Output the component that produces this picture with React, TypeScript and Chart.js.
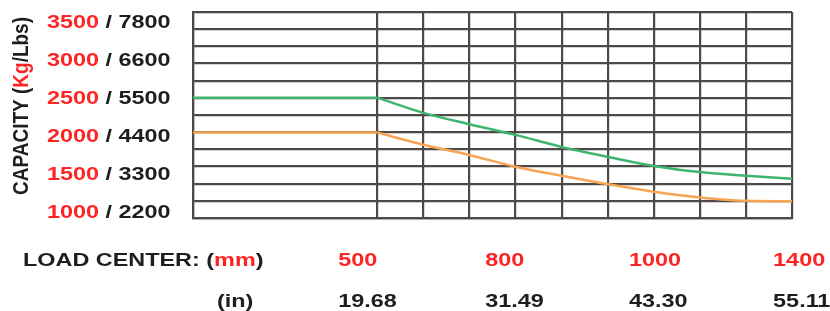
import React, { useEffect, useRef } from "react";
import { Chart, registerables } from "chart.js";

Chart.register(...registerables);

// Column positions along the load-center axis (grid columns)
const columnX = [0, 4, 5, 6, 7, 8, 9, 10, 11, 12, 13];
// Capacity curves (kg)
const capacityGreen = [2520, 2520, 2320, 2170, 2030, 1870, 1740, 1620, 1540, 1490, 1450];
const capacityOrange = [2060, 2060, 1900, 1765, 1610, 1490, 1380, 1280, 1205, 1160, 1155];

// Y tick labels
const yTickKg = [1000, 1500, 2000, 2500, 3000, 3500];
const yTickLbs = [2200, 3300, 4400, 5500, 6600, 7800];

// X labels
const loadCenterMm = ["500", "800", "1000", "1400"];
const loadCenterIn = ["19.68", "31.49", "43.30", "55.11"];
const loadCenterPos = [3.15, 6.34, 9.46, 12.59];

const hiddenColumns = [1, 2, 3];
const flatEnd = 2; // first two points form the flat (constant capacity) part

const RED = "#ff2424";
const BLACK = "#1e1e1e";
const GRID = "#4e4848";
const GREEN = "#3fb46f";
const ORANGE = "#f6a553";
const FONT = 'bold 18px "Liberation Sans", Arial, sans-serif';
const STRETCH = 1.3;

type Part = { t: string; c: string };

function drawParts(ctx: CanvasRenderingContext2D, parts: Part[], x: number, y: number, sx: number, font: string, rotate = false) {
  ctx.save();
  ctx.translate(x, y);
  ctx.scale(sx, 1);
  if (rotate) ctx.rotate(-Math.PI / 2);
  ctx.font = font;
  ctx.textBaseline = "middle";
  ctx.textAlign = "left";
  let total = 0;
  for (const p of parts) total += ctx.measureText(p.t).width;
  let cx = rotate ? -total / 2 : 0;
  for (const p of parts) {
    ctx.fillStyle = p.c;
    ctx.fillText(p.t, cx, 0);
    cx += ctx.measureText(p.t).width;
  }
  ctx.restore();
}

const labelPlugin = {
  id: "labelPlugin",
  afterDraw(chart: any) {
    const ctx = chart.ctx as CanvasRenderingContext2D;
    const xs = chart.scales.x;
    const ys = chart.scales.y;
    yTickKg.forEach((kg, i) => {
      const py = ys.getPixelForValue(kg);
      drawParts(ctx, [
        { t: String(kg), c: RED },
        { t: " / " + yTickLbs[i], c: BLACK },
      ], 47, py, STRETCH, FONT);
    });
    drawParts(ctx, [
      { t: "CAPACITY (", c: BLACK },
      { t: "Kg", c: RED },
      { t: "/Lbs)", c: BLACK },
    ], 22, 106, 1.2, 'bold 19px "Liberation Sans", Arial, sans-serif', true);
    const row1 = 261.5;
    const row2 = 302;
    drawParts(ctx, [
      { t: "LOAD CENTER: (", c: BLACK },
      { t: "mm", c: RED },
      { t: ")", c: BLACK },
    ], 23, row1, STRETCH, FONT);
    drawParts(ctx, [{ t: "(in)", c: BLACK }], 217, row2, STRETCH, FONT);
    loadCenterPos.forEach((pos, i) => {
      const px = xs.getPixelForValue(pos);
      drawParts(ctx, [{ t: loadCenterMm[i], c: RED }], px, row1, STRETCH, FONT);
      drawParts(ctx, [{ t: loadCenterIn[i], c: BLACK }], px, row2, STRETCH, FONT);
    });
  },
};

function pts(values: number[], from: number, to?: number) {
  return columnX.slice(from, to).map((x, i) => ({ x, y: values.slice(from, to)[i] }));
}

export default function App() {
  const ref = useRef<HTMLCanvasElement | null>(null);
  useEffect(() => {
    document.body.style.margin = "0";
    const canvas = ref.current;
    if (!canvas) return;
    const common = { borderWidth: 2.5, pointRadius: 0, cubicInterpolationMode: "monotone" as const };
    const chart = new Chart(canvas, {
      type: "line",
      data: {
        datasets: [
          { label: "Green flat", data: pts(capacityGreen, 0, flatEnd), borderColor: GREEN, ...common, tension: 0 },
          { label: "Green", data: pts(capacityGreen, flatEnd - 1), borderColor: GREEN, ...common },
          { label: "Orange flat", data: pts(capacityOrange, 0, flatEnd), borderColor: ORANGE, ...common, tension: 0 },
          { label: "Orange", data: pts(capacityOrange, flatEnd - 1), borderColor: ORANGE, ...common },
        ],
      },
      options: {
        animation: false,
        responsive: false,
        layout: { padding: { left: 193, top: 12, right: 38, bottom: 93 } },
        plugins: { legend: { display: false }, tooltip: { enabled: false } },
        scales: {
          x: {
            type: "linear",
            min: 0,
            max: 13,
            ticks: { display: false },
            afterBuildTicks: (scale: any) => {
              const t = [];
              for (let i = 0; i <= 13; i++) t.push({ value: i });
              scale.ticks = t;
            },
            grid: {
              drawTicks: false,
              lineWidth: 2.2,
              color: (c: any) => (hiddenColumns.includes(c.tick?.value) ? "rgba(0,0,0,0)" : GRID),
            },
            border: { display: true, color: GRID, width: 2.2 },
          },
          y: {
            type: "linear",
            min: 934,
            max: 3649,
            ticks: { display: false },
            afterBuildTicks: (scale: any) => {
              const t = [];
              const n = 12;
              for (let i = 0; i <= n; i++) t.push({ value: scale.min + ((scale.max - scale.min) * i) / n });
              scale.ticks = t;
            },
            grid: { drawTicks: false, lineWidth: 2.2, color: GRID },
            border: { display: true, color: GRID, width: 2.2 },
          },
        },
      },
      plugins: [labelPlugin],
    });
    return () => chart.destroy();
  }, []);
  return <canvas ref={ref} width={830} height={311} style={{ display: "block" }} />;
}
